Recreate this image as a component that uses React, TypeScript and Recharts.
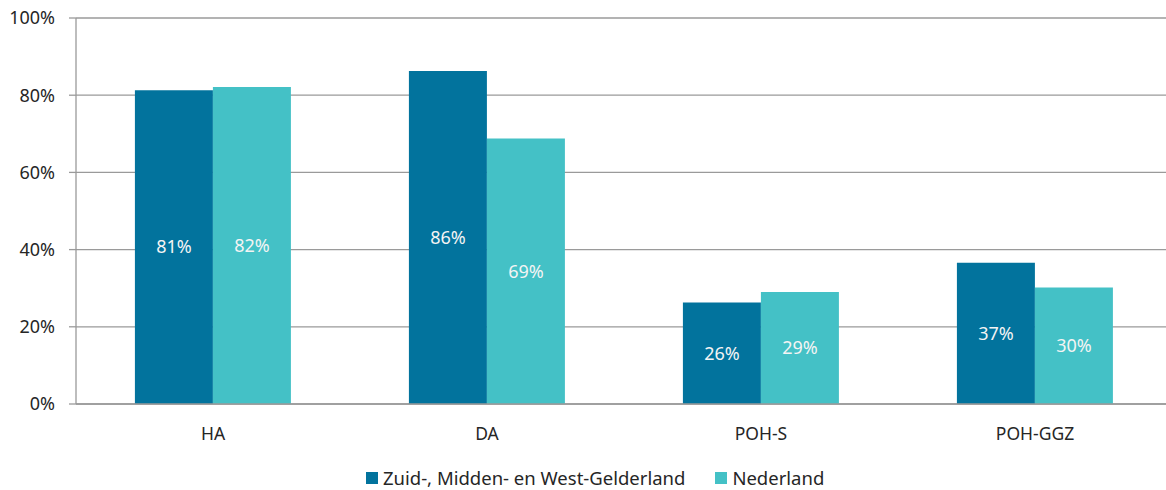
import { Bar, BarChart, CartesianGrid, LabelList, Legend, XAxis, YAxis } from "recharts";

const categories = ["HA", "DA", "POH-S", "POH-GGZ"];
const regionValues = [81.3, 86.3, 26.3, 36.6];
const nederlandValues = [82.1, 68.8, 29.0, 30.2];
const yTicks = [0, 20, 40, 60, 80, 100];

const REGION = "Zuid-, Midden- en West-Gelderland";
const NL = "Nederland";
const DARK = "#02739d";
const LIGHT = "#44c1c6";
const FONT = "'Noto Sans', 'Open Sans', sans-serif";

const rows = categories.map((name, i) => ({
  name,
  region: regionValues[i],
  nl: nederlandValues[i],
}));

const pct = (v: unknown) => `${Math.round(Number(v))}%`;

function LegendContent() {
  const items = [
    { label: REGION, color: DARK },
    { label: NL, color: LIGHT },
  ];
  return (
    <div
      style={{
        display: "flex",
        gap: 30,
        fontFamily: FONT,
        fontSize: 18.5,
        lineHeight: "18px",
        height: 18,
        color: "#262626",
        whiteSpace: "nowrap",
      }}
    >
      {items.map((it) => (
        <div key={it.label} style={{ display: "flex", alignItems: "center", gap: 5, height: 18 }}>
          <span style={{ width: 12, height: 12, background: it.color, display: "inline-block" }} />
          <span style={{ display: "inline-block", height: 18, lineHeight: "18px" }}>{it.label}</span>
        </div>
      ))}
    </div>
  );
}

export default function App() {
  return (
    <div style={{ position: "absolute", left: 0, top: 0, width: 1166, height: 490, overflow: "hidden", background: "#fff" }}>
      <BarChart
        width={1175}
        height={490}
        data={rows}
        margin={{ top: 18, right: 3, left: 0, bottom: 46 }}
        barCategoryGap="21.5%"
        barGap={0}
      >
        <CartesianGrid xAxisId="cat" vertical={false} stroke="#9a9a9a" strokeWidth={1.3} />
        <XAxis
          xAxisId="grid"
          type="number"
          domain={[0, 4]}
          ticks={[0, 1, 2, 3, 4]}
          height={0}
          tick={false}
          axisLine={false}
          tickLine={{ stroke: "#9a9a9a", strokeWidth: 1.3 }}
          tickSize={5}
        />
        <XAxis
          xAxisId="cat"
          dataKey="name"
          height={40}
          axisLine={{ stroke: "#9a9a9a", strokeWidth: 1.3 }}
          tickLine={false}
          tickSize={6}
          tickMargin={18}
          tick={{ fill: "#262626", fontSize: 17.5, fontFamily: FONT }}
        />
        <YAxis
          domain={[0, 100]}
          ticks={yTicks}
          width={76}
          tickFormatter={(v) => `${v}%`}
          axisLine={{ stroke: "#9a9a9a", strokeWidth: 1.3 }}
          tickLine={{ stroke: "#9a9a9a", strokeWidth: 1.3 }}
          tickSize={7}
          tickMargin={14}
          tick={{ fill: "#262626", fontSize: 18, fontFamily: FONT }}
        />
        <Legend
          verticalAlign="middle"
          align="center"
          layout="horizontal"
          wrapperStyle={{ top: 469, left: 366, width: 600, height: 18 }}
          content={() => <LegendContent />}
        />
        <Bar xAxisId="cat" dataKey="region" name={REGION} fill={DARK} isAnimationActive={false}>
          <LabelList dataKey="region" position="center" formatter={pct} fill="#f4f4f4" fontSize={18} fontFamily={FONT} />
        </Bar>
        <Bar xAxisId="cat" dataKey="nl" name={NL} fill={LIGHT} isAnimationActive={false}>
          <LabelList dataKey="nl" position="center" formatter={pct} fill="#f4f4f4" fontSize={18} fontFamily={FONT} />
        </Bar>
      </BarChart>
    </div>
  );
}
